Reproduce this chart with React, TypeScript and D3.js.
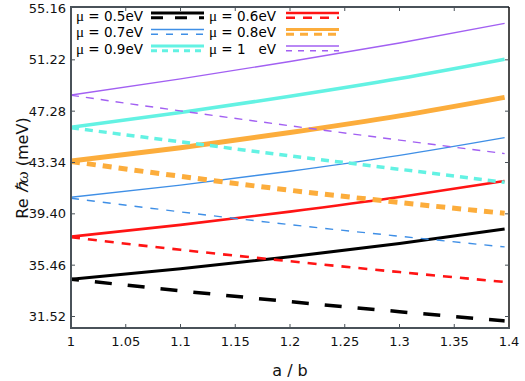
import React from "react";
import * as d3 from "d3";

const xs = [1, 1.1, 1.2, 1.3, 1.396];

const mu05Solid = [34.38, 35.19, 36.1, 37.12, 38.24];
const mu05Dashed = [34.38, 33.49, 32.66, 31.89, 31.18];
const mu06Solid = [37.65, 38.55, 39.57, 40.69, 41.92];
const mu06Dashed = [37.6, 36.64, 35.76, 34.93, 34.17];
const mu07Solid = [40.67, 41.6, 42.67, 43.89, 45.25];
const mu07Dashed = [40.6, 39.55, 38.57, 37.68, 36.86];
const mu08Solid = [43.46, 44.48, 45.64, 46.92, 48.34];
const mu08Dashed = [43.42, 42.28, 41.21, 40.27, 39.44];
const mu09Solid = [46.04, 47.17, 48.42, 49.78, 51.26];
const mu09Dashed = [46.0, 44.93, 43.85, 42.82, 41.82];
const mu10Solid = [48.52, 49.76, 51.09, 52.51, 54.02];
const mu10Dashed = [48.5, 47.3, 46.16, 45.06, 44.02];

const xTicks = [1, 1.05, 1.1, 1.15, 1.2, 1.25, 1.3, 1.35, 1.4];
const xTickLabels = ["1", "1.05", "1.1", "1.15", "1.2", "1.25", "1.3", "1.35", "1.4"];
const yTicks = [31.52, 35.46, 39.4, 43.34, 47.28, 51.22, 55.16];
const yTickLabels = ["31.52", "35.46", "39.40", "43.34", "47.28", "51.22", "55.16"];

const legendLabels = ["0.5eV", "0.6eV", "0.7eV", "0.8eV", "0.9eV", "1   eV"];

type S = { solid: number[]; dashed: number[]; color: string; w: number; dw: number; dash: string; off: number; legDash: string };
const series: S[] = [
  { solid: mu05Solid, dashed: mu05Dashed, color: "#000000", w: 3, dw: 3.5, dash: "17,16", off: 9, legDash: "12,12" },
  { solid: mu06Solid, dashed: mu06Dashed, color: "#ff1414", w: 2.6, dw: 2.6, dash: "9,8", off: 0, legDash: "9,8" },
  { solid: mu07Solid, dashed: mu07Dashed, color: "#3f8fe6", w: 1.4, dw: 1.4, dash: "8,8", off: 0, legDash: "7,8" },
  { solid: mu08Solid, dashed: mu08Dashed, color: "#fcad3c", w: 5, dw: 5, dash: "9,7", off: 0, legDash: "8,6" },
  { solid: mu09Solid, dashed: mu09Dashed, color: "#63f2e3", w: 3.5, dw: 3.5, dash: "8,6", off: 0, legDash: "6,5" },
  { solid: mu10Solid, dashed: mu10Dashed, color: "#a260f2", w: 1.4, dw: 1.4, dash: "8,7", off: 0, legDash: "6,6" },
];

const L = 71, R = 509, T = 7, B = 328;
const axisColor = "#4a5259";
const font = "DejaVu Sans, sans-serif";

export default function App() {
  const x = d3.scaleLinear().domain([1, 1.4]).range([L, R]);
  const y = d3.scaleLinear().domain([31.52, 55.16]).range([316.5, 8.5]);
  const line = d3
    .line<number>()
    .x((_, i) => x(xs[i]))
    .y((d) => y(d))
    .curve(d3.curveMonotoneX);

  const legCols = [
    { tx: 76, lx0: 151, lx1: 204 },
    { tx: 209, lx0: 286, lx1: 339 },
  ];
  const legRows = [13, 29.5, 46];

  return (
    <svg width={525} height={381} style={{ position: "absolute", left: 0, top: 0, background: "#fff" }}>
      <defs>
        <clipPath id="plot">
          <rect x={L} y={T} width={R - L} height={B - T} />
        </clipPath>
      </defs>
      <g clipPath="url(#plot)">
        {series.map((s, i) => (
          <g key={i}>
            <path d={line(s.solid) || ""} fill="none" stroke={s.color} strokeWidth={s.w} />
            <path
              d={line(s.dashed) || ""}
              fill="none"
              stroke={s.color}
              strokeWidth={s.dw}
              strokeDasharray={s.dash}
              strokeDashoffset={s.off}
            />
          </g>
        ))}
      </g>
      {/* legend */}
      {series.map((s, i) => {
        const col = legCols[i % 2];
        const row = legRows[Math.floor(i / 2)];
        return (
          <g key={"l" + i}>
            <text x={col.tx} y={row + 7.5} fontSize={13.5} fontFamily={font} fill="#000">
              <tspan fontFamily="Liberation Serif, serif" fontSize={15}>μ</tspan>
              <tspan style={{ whiteSpace: "pre" }}>{" = " + legendLabels[i]}</tspan>
            </text>
            <line x1={col.lx0} x2={col.lx1} y1={row} y2={row} stroke={s.color} strokeWidth={Math.min(s.w, 3)} />
            <line
              x1={col.lx0}
              x2={col.lx1}
              y1={row + 4.8}
              y2={row + 4.8}
              stroke={s.color}
              strokeWidth={Math.min(s.dw, 3)}
              strokeDasharray={s.legDash}
            />
          </g>
        );
      })}
      {/* frame */}
      <line x1={L} x2={R} y1={T} y2={T} stroke={axisColor} strokeWidth={2} />
      <line x1={R} x2={R} y1={T} y2={B} stroke="#111" strokeWidth={1.5} />
      <line x1={L} x2={L} y1={T - 1} y2={B + 1} stroke={axisColor} strokeWidth={2} />
      <line x1={L - 1} x2={R + 1} y1={B} y2={B} stroke={axisColor} strokeWidth={2} />
      {/* ticks */}
      {xTicks.map((t, i) => (
        <g key={"xt" + i}>
          {i > 0 && i < xTicks.length - 1 && (
            <>
              <line x1={x(t)} x2={x(t)} y1={B} y2={B - 4} stroke={axisColor} strokeWidth={1} />
              <line x1={x(t)} x2={x(t)} y1={T} y2={T + 4} stroke={axisColor} strokeWidth={1} />
            </>
          )}
          <text x={x(t)} y={346} textAnchor="middle" fontSize={13} fontFamily={font} fill="#111">
            {xTickLabels[i]}
          </text>
        </g>
      ))}
      {yTicks.map((t, i) => (
        <g key={"yt" + i}>
          {i < yTicks.length - 1 && (
            <>
              <line x1={L} x2={L + 4} y1={y(t)} y2={y(t)} stroke={axisColor} strokeWidth={1} />
              <line x1={R} x2={R - 4} y1={y(t)} y2={y(t)} stroke={axisColor} strokeWidth={1} />
            </>
          )}
          <text x={66} y={y(t) + 4.5} textAnchor="end" fontSize={13} fontFamily={font} fill="#111">
            {yTickLabels[i]}
          </text>
        </g>
      ))}
      {/* axis titles */}
      <text x={290} y={376} textAnchor="middle" fontSize={16} fontFamily={font} fill="#111">
        a / b
      </text>
      <text
        transform="translate(28,168) rotate(-90)"
        textAnchor="middle"
        fontSize={16}
        fontFamily={font}
        fill="#111"
      >
        Re <tspan fontFamily="Liberation Serif, serif" fontStyle="italic" fontSize={17}>ℏω</tspan> (meV)
      </text>
    </svg>
  );
}
